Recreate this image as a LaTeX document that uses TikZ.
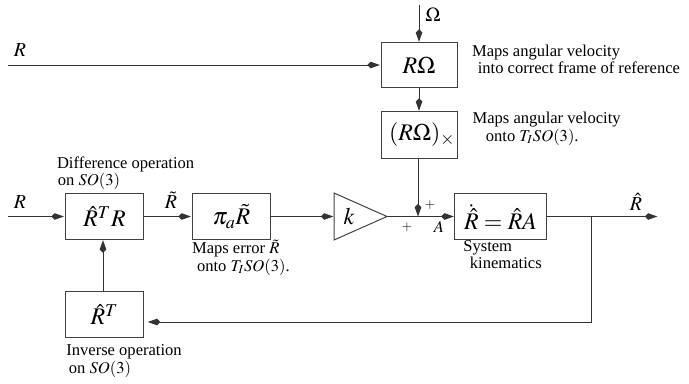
\documentclass[tikz,border=0pt]{standalone}
\usepackage{mathptmx}
\usepackage{fontspec}
\setmainfont{Liberation Serif}
\usetikzlibrary{arrows.meta}

\begin{document}
\begin{tikzpicture}[x=0.604pt,y=-0.604pt,
  wire/.style={draw=black!80, line width=0.6pt},
  sig/.style={wire, -{Kite[length=7.6pt,width=4pt,inset=2pt]}, shorten >=0.4pt},
  blk/.style={draw=black!75, line width=0.6pt, inner sep=1pt, font=\Large},
  lbl/.style={inner sep=0pt, font=\large},
  sgn/.style={inner sep=0pt, font=\footnotesize},
  note/.style={inner sep=0pt, anchor=base west, align=left,
               font=\fontsize{10}{9}\selectfont}]
  \useasboundingbox (0,0) rectangle (689,383);

  % blocks
  \node[blk, minimum width=45.9pt, minimum height=26.6pt] (rom) at (419,65) {$R\Omega$};
  \node[blk, minimum width=45.9pt, minimum height=27.8pt, text width=43.9pt, align=right] (rx) at (419,135) {$(R\Omega)_\times$};
  \node[blk, minimum width=47.7pt, minimum height=27.2pt] (rtr) at (104.5,216.5) {$\hat R^T R$};
  \node[blk, minimum width=47.7pt, minimum height=27.2pt] (pi) at (231.5,216.5) {$\pi_a\tilde R$};
  \node[blk, minimum width=55pt, minimum height=27.2pt] (kin) at (500.5,216.5) {$\dot{\hat R}=\hat RA$};
  \node[blk, minimum width=47.7pt, minimum height=27.2pt] (inv) at (104.5,314.5) {$\hat R^T$};

  % gain block
  \coordinate (gin) at (334,216.5);
  \coordinate (gout) at (387,216.5);
  \draw[blk] (334,193) -- (gout) -- (334,240) -- cycle;
  \node[lbl, font=\Large] (k) at (349,216.5) {$k$};

  % free ends and branch points
  \coordinate (omin) at (419,5);
  \coordinate (rtop) at (8,65);
  \coordinate (rin) at (8,216.5);
  \coordinate (sum) at (418,216.5);
  \coordinate (br) at (591,216.5);
  \coordinate (brd) at (591,322);
  \coordinate (out) at (658,216.5);

  % signal lines
  \draw[sig] (omin) -- (rom.north);
  \draw[sig] (rtop) -- (rom.west);
  \draw[sig] (rom.south) -- (rx.north);
  \draw[sig, shorten >=0pt] (rx.south -| sum) -- (sum);
  \draw[sig] (rin) -- (rtr.west);
  \draw[sig] (rtr.east) -- (pi.west);
  \draw[sig] (pi.east) -- (gin);
  \draw[wire] (gout) -- (sum);
  \draw[sig] (sum) -- (kin.west);
  \draw[wire] (kin.east) -- (br);
  \draw[sig] (br) -- (out);
  \draw[sig, shorten >=2pt] (br) -- (brd) -- (brd -| inv.east);
  \draw[sig] (inv.north -| 103,0) -- (rtr.south -| 103,0);

  % signal labels
  \node[lbl] (lR1) at (20,50) {$R$};
  \node[lbl] (lOm) at (433,15) {$\Omega$};
  \node[lbl] (lR2) at (20,202) {$R$};
  \node[lbl] (lRt) at (171,200) {$\tilde R$};
  \node[lbl] (lRh) at (636,202) {$\hat R$};
  \node[sgn] (p1) at (430,205) {$+$};
  \node[sgn] (p2) at (407,227.5) {$+$};
  \node[inner sep=0pt] (lA) at (439,227) {$A$};

  % annotations (anchored at the baseline of their last line)
  \node[note] (n1) at (471.7,73.3) {Maps angular velocity\\\hspace*{3.5pt}into correct frame of reference};
  \node[note] (n2) at (472.3,141.3) {Maps angular velocity\\\hspace*{8pt}onto $T_I SO(3)$.};
  \node[note] (n3) at (56.7,185.7) {Difference operation\\\hspace*{0.5pt}on $SO(3)$};
  \node[note] (n4) at (191.7,271) {Maps error $\tilde R$\\\hspace*{3pt}onto $T_I SO(3)$.};
  \node[note] (n5) at (463,268) {System\\\hspace*{4pt}kinematics};
  \node[note] (n6) at (66,373.3) {Inverse operation\\\hspace*{1.5pt}on $SO(3)$};
\end{tikzpicture}
\end{document}
